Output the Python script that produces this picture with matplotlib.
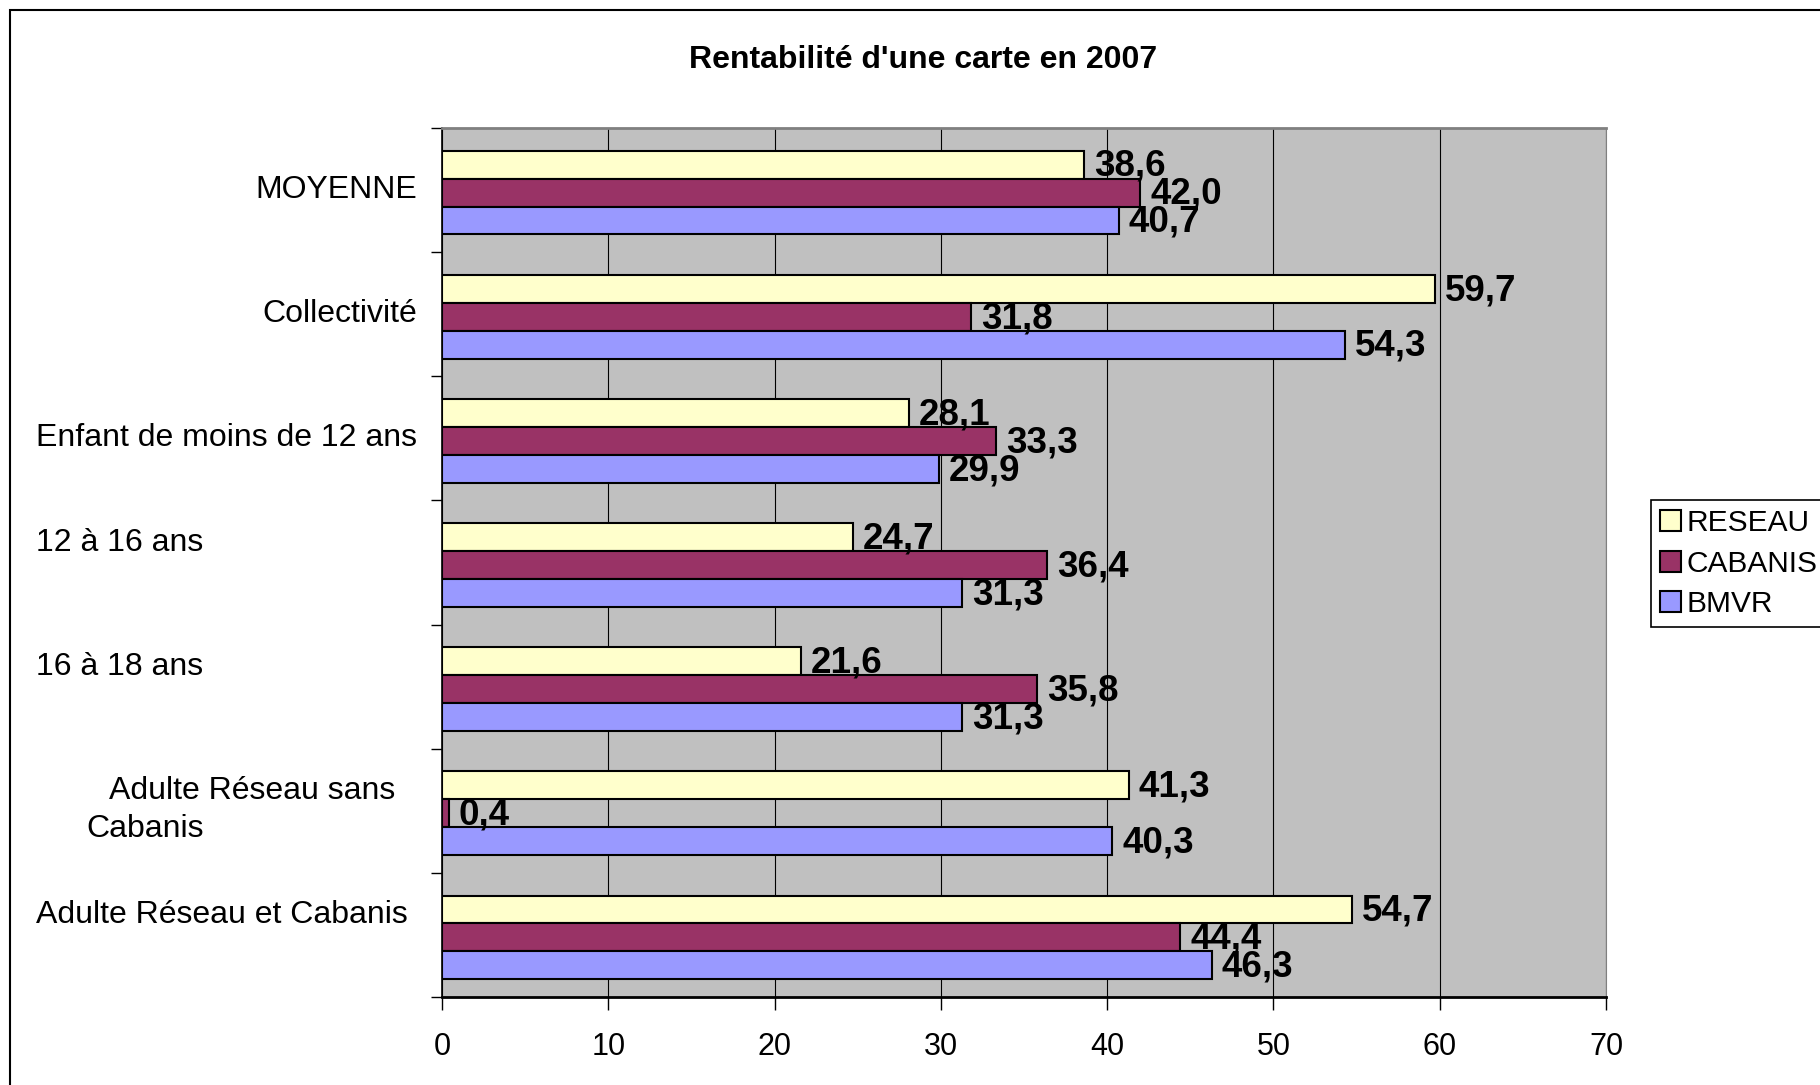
import numpy as np
import matplotlib
matplotlib.use("Agg")
from matplotlib import pyplot as plt
from matplotlib.patches import Rectangle

plt.rcParams["font.family"] = ["Liberation Sans", "DejaVu Sans"]

categories = ["MOYENNE", "Collectivité", "Enfant de moins de 12 ans", "12 à 16 ans",
              "16 à 18 ans", "Adulte Réseau sans Cabanis", "Adulte Réseau et Cabanis"]
reseau = [38.6, 59.7, 28.1, 24.7, 21.6, 41.3, 54.7]
cabanis = [42.0, 31.8, 33.3, 36.4, 35.8, 0.4, 44.4]
bmvr = [40.7, 54.3, 29.9, 31.3, 31.3, 40.3, 46.3]
series = [("RESEAU", reseau, "#FFFFCC"), ("CABANIS", cabanis, "#993366"), ("BMVR", bmvr, "#9999FF")]

W, H = 1820, 1085
fig = plt.figure(figsize=(W / 100, H / 100), dpi=100)
ax = fig.add_axes([442 / W, 1 - 997 / H, (1606 - 442) / W, (997 - 128) / H])
ax.set_facecolor("#C0C0C0")

n = len(categories)
ypos = np.arange(n)[::-1]
bh = 0.225
for k, (name, vals, col) in enumerate(series):
    y = ypos + (1 - k) * bh - 0.02
    ax.barh(y, vals, height=bh, color=col, edgecolor="black", linewidth=1.5, label=name, zorder=3)
    for yy, v in zip(y, vals):
        ax.text(v + 0.6, yy - 0.015, f"{v:.1f}".replace(".", ","), va="center", ha="left",
                fontsize=26.5, fontweight="bold", zorder=4)

ax.set_xlim(0, 70)
ax.set_ylim(-0.5, n - 0.5)
ax.set_xticks(range(0, 71, 10))
ax.tick_params(axis="x", labelsize=22, length=9, width=1, pad=16)
ax.set_yticks(np.arange(n + 1) - 0.5)
ax.set_yticklabels([])
ax.tick_params(axis="y", length=8, width=1)
ax.grid(axis="x", color="black", linewidth=0.8, zorder=1)
ax.set_axisbelow(True)
for s in ["top", "right"]:
    ax.spines[s].set_color("#808080")
ax.spines["top"].set_linewidth(2)
ax.spines["left"].set_linewidth(1.2)
ax.spines["bottom"].set_linewidth(2)

# category labels, placed like the original
lab_kw = dict(fontsize=23, va="center", transform=ax.get_yaxis_transform())
span = 1606 - 442
x_right = (417 - 442) / span
ax.text(x_right, ypos[0], categories[0], ha="right", **lab_kw)
ax.text(x_right, ypos[1], categories[1], ha="right", **lab_kw)
ax.text(x_right, ypos[2], categories[2], ha="right", **lab_kw)
x_left = (36 - 442) / span
ax.text(x_left, ypos[3] + 0.16, categories[3], ha="left", **lab_kw)
ax.text(x_left, ypos[4] + 0.16, categories[4], ha="left", **lab_kw)
ax.text((109 - 442) / span, ypos[5] + 0.16, "Adulte Réseau sans", ha="left", **lab_kw)
ax.text((86 - 442) / span, ypos[5] - 0.15, "Cabanis", ha="left", **lab_kw)
ax.text(x_left, ypos[6] + 0.16, categories[6], ha="left", **lab_kw)

fig.text(923 / W, 1 - 60 / H, "Rentabilité d'une carte en 2007", ha="center", va="center",
         fontsize=23, fontweight="bold")

leg = ax.legend(loc="upper left", bbox_to_anchor=(1651 / W, 1 - 500 / H), bbox_transform=fig.transFigure,
                fontsize=21.5, frameon=True, fancybox=False, edgecolor="black", framealpha=1,
                handlelength=0.7, handleheight=0.7, handletextpad=0.2, borderpad=0.3,
                labelspacing=0.42, borderaxespad=0)
leg.get_frame().set_linewidth(1.2)

fig.patches.append(Rectangle((10 / W, -0.02), 1.05, 1 - 10 / H + 0.02, transform=fig.transFigure,
                             fill=False, edgecolor="black", linewidth=1.5))

fig.savefig("out.png", dpi=100)
plt.close()
